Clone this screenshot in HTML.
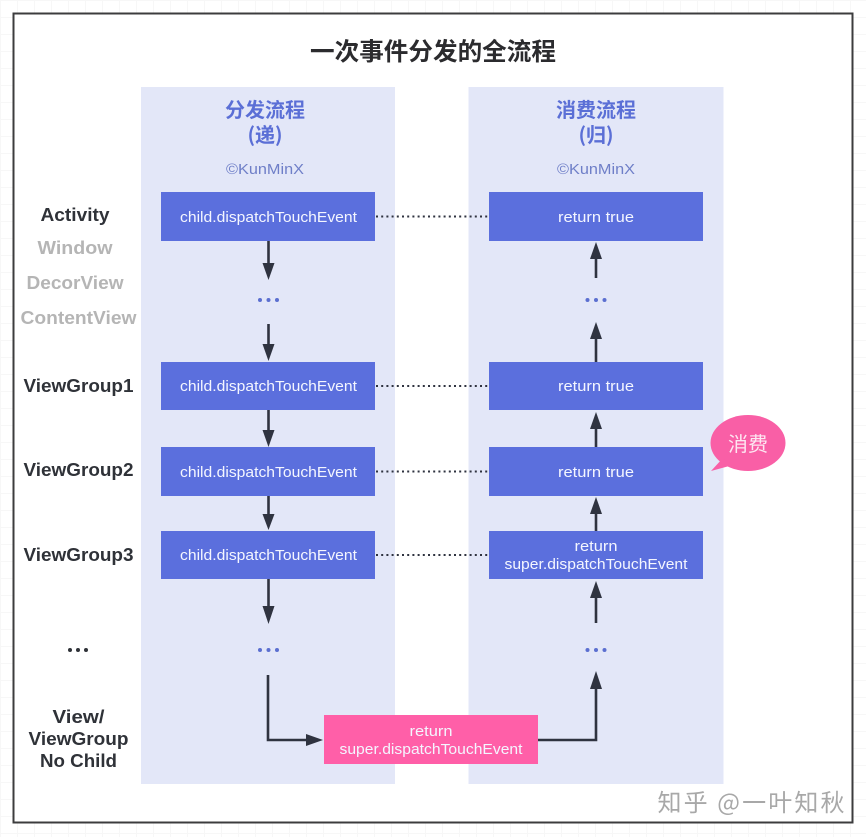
<!DOCTYPE html>
<html><head><meta charset="utf-8">
<style>
html,body{margin:0;padding:0;background:#fff;width:866px;height:837px;overflow:hidden}
svg{display:block;filter:blur(0.35px)}
text{font-family:"Liberation Sans","Noto Sans CJK SC",sans-serif}
.c{text-anchor:middle}
.lb{font-size:18px;font-weight:bold;fill:#2f3238;text-anchor:middle}
.lg{font-size:18px;font-weight:bold;fill:#b5b5b5;text-anchor:middle}
.bx{font-size:15px;fill:#f4f6ff;text-anchor:middle}
.hd{font-size:20px;font-weight:bold;fill:#5b6fd6;text-anchor:middle;font-family:"Noto Sans CJK SC",sans-serif}
.cp{font-size:15px;fill:#6f7fc8;text-anchor:middle}
.ln{stroke:#2f3340;stroke-width:2.6;fill:none}
.dt{stroke:#2f3340;stroke-width:2;stroke-dasharray:2 3.2;fill:none}
</style></head><body>
<svg width="866" height="837" viewBox="0 0 866 837" xmlns="http://www.w3.org/2000/svg">
<defs>
<pattern id="g" width="17" height="17" patternUnits="userSpaceOnUse"><path d="M0 .5H17M.5 0V17" stroke="#f7f7f7" stroke-width="1" fill="none"/></pattern>
</defs>
<rect width="866" height="837" fill="#fff"/>
<rect width="866" height="837" fill="url(#g)"/>
<rect x="13.500" y="13.500" width="839" height="809" fill="#fff" stroke="#3c3c3e" stroke-width="2"/>

<text x="433" y="60" class="c" style="font-size:24.6px;font-weight:bold;fill:#2b2b2e;font-family:'Noto Sans CJK SC',sans-serif">一次事件分发的全流程</text>

<rect x="141" y="87" width="254" height="697" fill="#e3e7f8"/>
<rect x="468.500" y="87" width="255" height="697" fill="#e3e7f8"/>

<text x="265" y="117" class="hd">分发流程</text>
<text x="265" y="142" class="hd">(递)</text>
<text x="265" y="174" class="cp" textLength="78" lengthAdjust="spacingAndGlyphs">©KunMinX</text>
<text x="596" y="117" class="hd">消费流程</text>
<text x="596" y="142" class="hd">(归)</text>
<text x="596" y="174" class="cp" textLength="78" lengthAdjust="spacingAndGlyphs">©KunMinX</text>

<g fill="#5b6fdd">
<rect x="161" y="192" width="214" height="49"/>
<rect x="161" y="362" width="214" height="48"/>
<rect x="161" y="447" width="214" height="49"/>
<rect x="161" y="531" width="214" height="48"/>
<rect x="489" y="192" width="214" height="49"/>
<rect x="489" y="362" width="214" height="48"/>
<rect x="489" y="447" width="214" height="49"/>
<rect x="489" y="531" width="214" height="48"/>
</g>
<rect x="324" y="715" width="214" height="49" fill="#ff5fa8"/>

<g class="bx">
<text x="268.500" y="222" class="bx" textLength="177" lengthAdjust="spacingAndGlyphs">child.dispatchTouchEvent</text>
<text x="268.500" y="391" class="bx" textLength="177" lengthAdjust="spacingAndGlyphs">child.dispatchTouchEvent</text>
<text x="268.500" y="477" class="bx" textLength="177" lengthAdjust="spacingAndGlyphs">child.dispatchTouchEvent</text>
<text x="268.500" y="560" class="bx" textLength="177" lengthAdjust="spacingAndGlyphs">child.dispatchTouchEvent</text>
<text x="596" y="222" class="bx" textLength="76" lengthAdjust="spacingAndGlyphs">return true</text>
<text x="596" y="391" class="bx" textLength="76" lengthAdjust="spacingAndGlyphs">return true</text>
<text x="596" y="477" class="bx" textLength="76" lengthAdjust="spacingAndGlyphs">return true</text>
<text x="596" y="551" class="bx" textLength="43" lengthAdjust="spacingAndGlyphs">return</text>
<text x="596" y="569" class="bx" textLength="183" lengthAdjust="spacingAndGlyphs">super.dispatchTouchEvent</text>
<text x="431" y="736" class="bx" textLength="43" lengthAdjust="spacingAndGlyphs">return</text>
<text x="431" y="754" class="bx" textLength="183" lengthAdjust="spacingAndGlyphs">super.dispatchTouchEvent</text>
</g>

<text x="75" y="221" class="lb" textLength="69" lengthAdjust="spacingAndGlyphs">Activity</text>
<text x="75" y="254" class="lg" textLength="75" lengthAdjust="spacingAndGlyphs">Window</text>
<text x="75" y="289" class="lg" textLength="97" lengthAdjust="spacingAndGlyphs">DecorView</text>
<text x="78.500" y="324" class="lg" textLength="116" lengthAdjust="spacingAndGlyphs">ContentView</text>
<text x="78.500" y="392" class="lb" textLength="110" lengthAdjust="spacingAndGlyphs">ViewGroup1</text>
<text x="78.500" y="476" class="lb" textLength="110" lengthAdjust="spacingAndGlyphs">ViewGroup2</text>
<text x="78.500" y="561" class="lb" textLength="110" lengthAdjust="spacingAndGlyphs">ViewGroup3</text>
<text x="78.500" y="723" class="lb" textLength="52" lengthAdjust="spacingAndGlyphs">View/</text>
<text x="78.500" y="745" class="lb" textLength="100" lengthAdjust="spacingAndGlyphs">ViewGroup</text>
<text x="78.500" y="767" class="lb" textLength="77" lengthAdjust="spacingAndGlyphs">No Child</text>

<g fill="#2f3238"><circle cx="70" cy="650" r="2"/><circle cx="78" cy="650" r="2"/><circle cx="86" cy="650" r="2"/></g>
<g fill="#5b6fd0">
<circle cx="260" cy="300" r="2"/><circle cx="268.500" cy="300" r="2"/><circle cx="277" cy="300" r="2"/>
<circle cx="260" cy="650" r="2"/><circle cx="268.500" cy="650" r="2"/><circle cx="277" cy="650" r="2"/>
<circle cx="587.500" cy="300" r="2"/><circle cx="596" cy="300" r="2"/><circle cx="604.500" cy="300" r="2"/>
<circle cx="587.500" cy="650" r="2"/><circle cx="596" cy="650" r="2"/><circle cx="604.500" cy="650" r="2"/>
</g>

<g class="dt">
<path class="dt" d="M376 216.500H489"/>
<path class="dt" d="M376 386H489"/>
<path class="dt" d="M376 471.500H489"/>
<path class="dt" d="M376 555H489"/>
</g>

<g class="ln">
<path class="ln" d="M268.500 241V268"/>
<path class="ln" d="M268.500 324V350"/>
<path class="ln" d="M268.500 410V435"/>
<path class="ln" d="M268.500 496V520"/>
<path class="ln" d="M268.500 579V612"/>
<path class="ln" d="M268 675V740H310"/>
<path class="ln" d="M596 278V254"/>
<path class="ln" d="M596 362V334"/>
<path class="ln" d="M596 447V424"/>
<path class="ln" d="M596 531V508"/>
<path class="ln" d="M596 623V593"/>
<path class="ln" d="M538 740H596V686"/>
</g>
<g fill="#2f3340">
<path d="M262.500 263H274.500L268.500 280Z"/>
<path d="M262.500 344H274.500L268.500 361Z"/>
<path d="M262.500 430H274.500L268.500 447Z"/>
<path d="M262.500 514H274.500L268.500 530Z"/>
<path d="M262.500 606H274.500L268.500 624Z"/>
<path d="M306 734L323 740L306 746Z"/>
<path d="M590 259H602L596 242Z"/>
<path d="M590 339H602L596 322Z"/>
<path d="M590 429H602L596 412Z"/>
<path d="M590 514H602L596 497Z"/>
<path d="M590 598H602L596 581Z"/>
<path d="M590 689H602L596 671Z"/>
</g>

<ellipse cx="748" cy="443" rx="37.500" ry="28" fill="#f95fa6"/>
<path d="M723 458L711 471L733 465Z" fill="#f95fa6"/>
<text x="748" y="451" class="c" style="font-size:20px;fill:#fde6f1;font-family:'Noto Sans CJK SC',sans-serif">消费</text>

<text x="751" y="811" class="c" style="font-size:24px;fill:#a8a8a8;font-family:'Noto Sans CJK SC',sans-serif" textLength="187" lengthAdjust="spacing">知乎 @一叶知秋</text>
</svg>
</body></html>
